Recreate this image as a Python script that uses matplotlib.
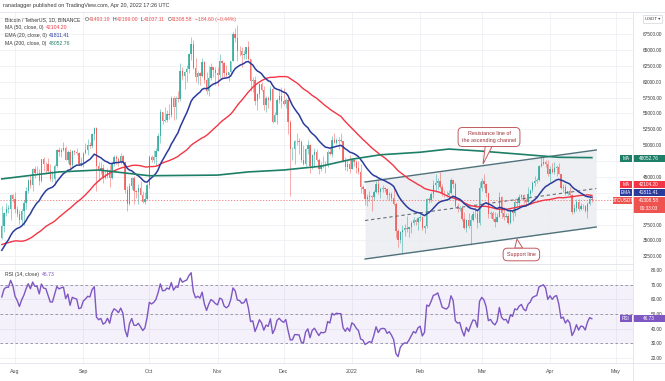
import numpy as np
import pandas as pd
import matplotlib
matplotlib.use("Agg")
import matplotlib.pyplot as plt
from matplotlib.patches import Rectangle, Polygon

plt.rcParams['font.family'] = ['Liberation Sans', 'DejaVu Sans']

# BTC/USDT daily data in thousand USDT
# closes 2021-06-06 .. 2021-07-25, only used to warm up the averages and RSI
warmup_close = [35.8, 33.6, 33.4, 37.4, 36.7, 37.3, 35.6, 39.1, 40.5, 40.1, 38.3, 38.1, 35.8, 35.5, 35.6,
                31.7, 32.5, 33.7, 34.7, 31.6, 32.3, 34.7, 34.5, 36.0, 35.0,
                33.5, 33.8, 34.7, 35.3, 33.7, 34.2, 33.9, 32.9, 33.8, 33.5, 34.3, 33.1, 32.7, 32.8, 31.8,
                31.4, 31.5, 31.8, 30.8, 29.8, 32.1, 32.3, 33.6, 34.3, 35.4]

start = "2021-07-26"
close_k = [37.3, 39.4, 40.0, 40.0, 42.2, 41.5,
           39.9, 39.2, 38.2, 39.7, 40.9, 42.8, 44.6, 43.8, 46.3, 45.6, 45.6, 44.4, 47.8, 47.1, 47.0, 45.9,
           44.7, 44.7, 46.8, 49.3, 48.9, 49.3, 49.5, 47.7, 48.9, 46.9, 49.1, 48.9, 48.8, 47.0, 47.2,
           48.8, 49.3, 50.0, 49.9, 51.8, 52.7, 46.8, 46.1, 46.4, 44.9, 45.2, 46.1, 44.9, 47.1, 48.1, 47.8,
           47.3, 48.3, 47.3, 43.0, 40.7, 43.6, 44.9, 42.8, 42.7, 43.2, 42.2, 41.0, 41.5, 43.8,
           48.1, 47.7, 48.2, 49.1, 51.5, 55.3, 53.8, 53.9, 54.9, 54.7, 57.5, 56.0, 57.4, 57.3, 61.7, 60.9,
           61.5, 62.0, 64.3, 66.0, 62.2, 60.7, 61.3, 60.9, 63.1, 60.3, 58.5, 60.6, 62.3, 61.9, 61.3,
           61.0, 63.2, 62.9, 61.4, 61.0, 61.5, 63.3, 67.5, 66.9, 64.9, 64.8, 64.2, 64.4, 65.5, 63.6, 60.1,
           60.3, 56.9, 58.1, 59.7, 58.7, 56.3, 57.5, 57.1, 58.9, 53.7, 54.8, 57.2, 57.8, 57.0,
           56.5, 57.2, 53.6, 49.4, 49.4, 50.6, 50.6, 50.5, 47.6, 47.1, 49.4, 50.1, 46.7, 48.4, 48.9, 47.6,
           46.2, 46.9, 46.7, 46.9, 49.0, 48.6, 50.8, 50.4, 50.8, 50.7, 50.7, 47.5, 46.5, 47.1, 46.2,
           47.7, 47.3, 46.4, 45.8, 43.4, 43.1, 41.6, 41.8, 42.0, 41.8, 42.7, 43.9, 42.6, 43.1, 43.2, 43.1,
           42.2, 42.4, 41.7, 40.7, 36.5, 35.1, 36.3, 36.7, 36.9, 36.8, 37.2, 37.7, 38.2, 37.9, 38.5,
           38.7, 36.9, 37.3, 41.6, 41.4, 42.4, 43.8, 44.0, 44.4, 43.5, 42.4, 42.2, 42.1, 42.5, 44.5, 43.9,
           40.5, 40.0, 40.1, 38.4, 37.0, 38.3, 37.3, 38.3, 39.2, 39.1, 37.7, 43.2,
           44.4, 43.9, 42.5, 39.1, 39.4, 38.4, 37.9, 38.7, 41.9, 39.4, 38.7, 38.8, 37.8, 39.7, 39.3, 41.1,
           40.9, 41.8, 42.2, 41.3, 41.0, 42.4, 42.9, 44.0, 44.3, 44.5, 46.8, 47.1, 47.4, 47.0, 45.5,
           46.3, 45.8, 46.4, 46.6, 45.5, 43.2, 43.4, 42.3, 42.8, 42.2, 39.5, 40.1, 41.1, 39.9, 40.5, 40.4,
           39.7, 40.8, 41.5, 41.30858]
high_k = [40.5, 39.5, 40.9, 40.6, 42.3, 42.4,
          42.6, 40.4, 39.8, 39.9, 41.4, 43.4, 44.7, 45.3, 46.4, 46.7, 46.8, 46.2, 47.9, 48.1, 47.4, 48.0,
          47.1, 46.0, 47.0, 49.4, 49.8, 49.5, 50.5, 49.9, 49.3, 49.4, 49.2, 49.3, 49.6, 48.9, 48.2,
          48.9, 50.3, 51.0, 50.5, 51.9, 52.9, 52.9, 47.4, 47.4, 47.0, 45.9, 46.4, 46.9, 47.3, 48.5, 48.5,
          48.2, 48.8, 48.4, 47.4, 43.6, 44.0, 45.0, 45.2, 42.9, 43.9, 44.4, 42.8, 42.6, 44.1,
          48.5, 48.4, 49.3, 49.5, 51.9, 55.7, 55.3, 56.1, 55.5, 56.5, 57.8, 57.7, 57.7, 58.5, 62.9, 62.4,
          61.7, 62.7, 64.5, 67.0, 66.6, 63.7, 61.7, 61.5, 63.7, 63.3, 61.5, 62.5, 62.9, 62.4, 62.4,
          62.4, 64.3, 63.5, 63.1, 62.6, 61.6, 63.3, 67.8, 68.5, 69.0, 65.6, 65.5, 65.0, 65.5, 66.4, 63.6,
          60.8, 60.9, 58.3, 59.8, 60.0, 59.3, 57.8, 57.8, 59.4, 59.2, 55.3, 57.4, 58.8, 59.2,
          59.0, 57.4, 57.6, 53.9, 49.7, 50.8, 51.9, 51.2, 50.8, 50.1, 49.5, 50.8, 50.2, 48.7, 49.5, 49.4,
          48.0, 47.3, 48.3, 47.5, 49.3, 49.6, 51.4, 51.9, 51.2, 51.3, 52.0, 50.7, 48.1, 47.9, 48.5,
          47.9, 47.9, 47.6, 47.5, 47.0, 43.7, 43.1, 42.3, 42.8, 42.2, 43.0, 44.3, 44.5, 43.5, 43.8, 43.5,
          43.2, 42.7, 42.6, 43.5, 41.1, 36.8, 36.5, 37.5, 37.6, 38.9, 37.2, 38.0, 38.7, 38.4, 38.7,
          39.3, 38.9, 37.4, 41.7, 41.9, 42.7, 44.5, 45.5, 44.8, 45.8, 43.9, 43.0, 42.8, 42.9, 44.8, 44.6,
          44.2, 40.9, 40.4, 40.2, 39.5, 38.4, 39.3, 39.0, 39.7, 40.3, 39.9, 44.2,
          44.9, 45.4, 44.1, 42.5, 39.7, 39.7, 39.5, 39.4, 42.6, 42.0, 40.2, 39.4, 39.3, 39.9, 39.9, 41.7,
          41.5, 42.3, 42.4, 42.3, 41.7, 43.4, 43.0, 44.3, 45.1, 44.8, 46.9, 48.2, 48.1, 47.7, 47.6,
          46.7, 47.2, 47.4, 46.9, 47.2, 45.5, 43.9, 43.9, 42.8, 43.4, 42.4, 40.7, 41.6, 41.5, 40.9, 40.7,
          40.6, 41.1, 41.8, 42.199]
low_k = [35.2, 36.4, 38.8, 39.3, 38.3, 41.1,
         39.4, 38.7, 37.6, 37.5, 37.4, 39.9, 42.5, 43.3, 42.8, 44.9, 45.4, 43.8, 44.2, 46.0, 45.5, 45.7,
         44.4, 44.2, 43.9, 46.6, 48.3, 48.1, 49.1, 47.6, 47.2, 46.3, 46.4, 48.4, 48.4, 46.9, 46.7,
         46.5, 48.6, 48.5, 49.5, 49.5, 50.9, 42.8, 44.4, 45.5, 44.1, 44.7, 44.8, 43.4, 44.7, 46.7, 47.0,
         46.8, 47.0, 46.9, 42.5, 39.6, 40.6, 43.1, 40.8, 41.7, 40.8, 42.1, 40.9, 40.8, 41.4,
         43.3, 47.4, 47.2, 46.9, 49.1, 50.4, 53.4, 53.6, 53.7, 54.1, 54.4, 53.9, 54.2, 56.8, 56.9, 60.2,
         58.9, 60.0, 61.3, 63.5, 62.0, 60.0, 59.7, 59.5, 60.7, 59.8, 58.0, 57.8, 60.2, 60.7, 59.5,
         59.4, 60.6, 60.4, 60.7, 60.7, 60.1, 61.3, 63.3, 66.3, 63.3, 64.1, 62.3, 63.6, 63.6, 63.4, 58.6,
         58.4, 56.4, 55.6, 57.4, 58.5, 55.6, 55.3, 55.8, 57.0, 53.5, 53.6, 53.3, 56.7, 55.9,
         56.4, 55.8, 51.7, 42.0, 47.7, 47.1, 50.0, 48.6, 47.3, 46.9, 46.8, 48.7, 45.7, 46.3, 46.6, 47.5,
         45.5, 45.9, 46.4, 45.6, 46.6, 48.4, 48.1, 50.4, 50.2, 49.4, 50.5, 47.3, 46.1, 46.0, 45.7,
         46.2, 46.7, 45.7, 45.5, 42.5, 42.4, 40.6, 40.5, 41.2, 39.7, 41.3, 42.5, 42.3, 41.7, 42.6, 42.6,
         41.6, 41.3, 41.2, 40.6, 35.4, 34.0, 34.6, 33.0, 35.7, 36.3, 35.5, 36.2, 37.4, 37.4, 36.6,
         38.1, 36.6, 36.2, 37.0, 40.9, 41.1, 41.7, 42.7, 43.1, 43.2, 42.0, 41.8, 41.9, 41.6, 42.4, 43.3,
         40.1, 39.5, 39.6, 38.0, 36.8, 36.4, 37.0, 34.3, 38.0, 38.6, 37.0, 37.5,
         42.8, 43.3, 41.8, 38.6, 38.6, 38.1, 37.2, 37.9, 38.7, 38.5, 38.2, 38.7, 37.6, 37.6, 38.1, 38.9,
         40.5, 40.1, 41.5, 40.9, 40.5, 40.9, 41.9, 42.6, 43.6, 44.1, 44.4, 46.6, 46.9, 46.6, 45.2,
         44.2, 45.6, 45.5, 45.1, 45.4, 43.1, 42.7, 42.1, 42.1, 41.9, 39.2, 39.3, 39.6, 39.6, 39.8, 40.0,
         39.5, 38.5, 40.6, 41.037]
last_open_k = 41.49319

# 200-day MA (date, thousand USDT)
ma200_dates = ['2021-07-26', '2021-08-21', '2021-09-08', '2021-10-01', '2021-11-01', '2021-11-15',
               '2021-12-01', '2021-12-18', '2022-01-01', '2022-01-14', '2022-02-01', '2022-02-14',
               '2022-02-28', '2022-03-18', '2022-04-05', '2022-04-20']
ma200_k = [44.7, 45.8, 46.1, 45.2, 45.3, 45.8, 46.1, 46.7, 47.8, 48.5, 48.9, 49.4, 49.1, 48.6, 48.1, 48.05]

# ascending channel drawn on the chart
channel_dates = ['2022-01-07', '2022-04-22']
channel_top = [44213, 49252]
channel_bottom = [32087, 37126]

month_labels = ['Aug', 'Sep', 'Oct', 'Nov', 'Dec', '2022', 'Feb', 'Mar', 'Apr', 'May']

n = len(close_k)
assert len(high_k) == n and len(low_k) == n
d0 = pd.Timestamp(start)
def day(s):
    return (pd.Timestamp(s) - d0).days

allc = pd.Series(warmup_close + close_k) * 1000
nw = len(warmup_close)
ma50 = allc.rolling(50).mean().values[nw:]
ema20 = allc.ewm(span=20, adjust=False).mean().values[nw:]
diff = allc.diff()
up = diff.clip(lower=0).ewm(alpha=1/14, adjust=False).mean()
dn = (-diff.clip(upper=0)).ewm(alpha=1/14, adjust=False).mean()
rsi = (100 - 100 / (1 + up / dn)).values[nw:]

c = np.array(close_k) * 1000
o = allc.shift(1).values[nw:].copy()
o[-1] = last_open_k * 1000
h = np.array(high_k) * 1000
l = np.array(low_k) * 1000
t = np.arange(n)

W, H = 665, 381
fig = plt.figure(figsize=(6.65, 3.81), dpi=100)
def box(x0, y0, x1, y1):
    return [x0 / W, 1 - y1 / H, (x1 - x0) / W, (y1 - y0) / H]
ax = fig.add_axes(box(0, 12, 633, 264))
axr = fig.add_axes(box(0, 264, 633, 363))

xl = (-0.82, 286.7)
month_pos = [day(m) for m in pd.date_range('2021-08-01', '2022-05-01', freq='MS')]
gridc = '#eef0f5'
for a in (ax, axr):
    a.set_xlim(*xl)
    a.set_xticks(month_pos)
    a.grid(True, color=gridc, lw=0.6)
    a.set_axisbelow(True)
    for s in a.spines.values():
        s.set_visible(False)
    a.yaxis.tick_right()
    a.tick_params(length=0, labelsize=3.4, labelcolor='#3a3a3a')

# price panel; labels hidden behind the scale tags are left blank
pticks = np.arange(32500, 70001, 2500)
hidden = {40000, 42500, 47500, 70000}
ax.set_ylim(31299, 70984)
ax.set_yticks(pticks)
ax.set_yticklabels(["" if v in hidden else f"{v:.2f}" for v in pticks])
ax.tick_params(axis='y', pad=20.9)
for lab in ax.get_yticklabels():
    lab.set_ha('right')
ax.set_xticklabels([])

# channel
cx = [day(s) for s in channel_dates]
ax.fill_between(cx, channel_bottom, channel_top, color='#e9ecf1', alpha=0.8, lw=0, zorder=1)
ax.plot(cx, channel_top, color='#4f717a', lw=1.0, zorder=4)
ax.plot(cx, channel_bottom, color='#4f717a', lw=1.0, zorder=4)
ax.plot(cx, [(a + b) / 2 for a, b in zip(channel_top, channel_bottom)], color='#6b6e76',
        lw=0.8, ls=(0, (3, 2.5)), zorder=4)

# candles
upc, dnc = '#26a69a', '#ef5350'
cols = np.where(c >= o, upc, dnc)
ax.vlines(t, l, h, colors=cols, lw=0.45, alpha=0.75, zorder=3)
body = np.maximum(np.abs(c - o), 60)
ax.bar(t, body, bottom=np.minimum(o, c), width=0.62, color=cols, lw=0, alpha=0.8, zorder=3)

ax.axhline(c[-1], color=dnc, lw=0.6, ls=(0, (1.5, 2)), alpha=0.8, zorder=2)

ax.plot(t, ma50, color='#f23645', lw=1.0, zorder=5)
ax.plot(t, ema20, color='#2a3b9c', lw=1.1, zorder=5)
ax.plot([day(s) for s in ma200_dates], np.array(ma200_k) * 1000, color='#1d7f68', lw=1.2, zorder=5)

# callouts
txtc, boxc = '#9a2e36', '#c25a5f'
ax.add_patch(Polygon([(219.6, 49900), (218.6, 47047), (222.8, 49900)], closed=True,
                     fc='white', ec=boxc, lw=0.7, zorder=6))
ax.text(221.3, 51299, "Resistance line of\nthe ascending channel", fontsize=3.9, color=txtc,
        ha='center', va='center', linespacing=1.35, zorder=7,
        bbox=dict(boxstyle='round,pad=0.7,rounding_size=0.8', fc='white', ec=boxc, lw=0.7))
ax.add_patch(Polygon([(233.0, 33800), (234.0, 35236), (236.6, 33800)], closed=True,
                     fc='white', ec=boxc, lw=0.7, zorder=6))
ax.text(236.0, 32795, "Support line", fontsize=3.9, color=txtc, ha='center', va='center', zorder=7,
        bbox=dict(boxstyle='round,pad=0.7,rounding_size=0.8', fc='white', ec=boxc, lw=0.7))

# RSI panel
purple = '#7e57c2'
axr.set_ylim(16.4, 84.2)
axr.set_yticks(np.arange(20, 81, 10))
axr.set_yticklabels([f"{v:.2f}" for v in np.arange(20, 81, 10)])
axr.tick_params(axis='y', pad=20.9)
for lab in axr.get_yticklabels():
    lab.set_ha('right')
axr.axhspan(30, 70, color=purple, alpha=0.08, lw=0)
for lv in (30, 50, 70):
    axr.axhline(lv, color='#8f8aa0', lw=0.6, ls=(0, (3, 3)))
axr.plot(t, rsi, color=purple, lw=1.0)
axr.set_xticklabels(month_labels)
axr.tick_params(axis='x', pad=4.2, labelsize=3.8, labelcolor='#4a4a4a')

# frame lines
linec = '#e0e3eb'
fig.add_artist(plt.Line2D([0, 1], [1 - 12 / H, 1 - 12 / H], color=linec, lw=0.6))
fig.add_artist(plt.Line2D([0, 633 / W], [1 - 264 / H, 1 - 264 / H], color=linec, lw=0.6))
fig.add_artist(plt.Line2D([0, 1], [1 - 363 / H, 1 - 363 / H], color=linec, lw=0.6))
fig.add_artist(plt.Line2D([633 / W, 633 / W], [1 - 381 / H, 1 - 12 / H], color=linec, lw=0.6))

# header and legend, pieces laid out one after another
fig.canvas.draw()
rend = fig.canvas.get_renderer()
grey = '#3a3a3a'

def chain(x, y, parts, fs=3.7):
    for s, col, gap in parts:
        tx = fig.text(x / W, 1 - y / H, s, color=col, fontsize=fs, va='center', ha='left')
        x += tx.get_window_extent(rend).width + gap

chain(3, 6, [("ranadagger published on TradingView.com, Apr 20, 2022 17:26 UTC", grey, 0)], fs=4.0)
chain(5, 19.3, [("Bitcoin / TetherUS, 1D, BINANCE", grey, 4),
                ("O", grey, 0.3), ("41493.19", dnc, 2.5),
                ("H", grey, 0.3), ("42199.00", dnc, 2.5),
                ("L", grey, 0.3), ("41037.11", dnc, 2.5),
                ("C", grey, 0.3), ("41308.58", dnc, 2.5),
                ("\u2212184.60 (\u22120.44%)", dnc, 0)])
chain(5, 27.3, [("MA (50, close, 0)", grey, 2.5), ("42104.20", '#f23645', 0)])
chain(5, 35.2, [("EMA (20, close, 0)", grey, 2.5), ("41811.41", '#2a3b9c', 0)])
chain(5, 43.2, [("MA (200, close, 0)", grey, 2.5), ("48052.76", '#1d7f68', 0)])
chain(5, 274.7, [("RSI (14, close)", grey, 2.5), ("46.73", purple, 0)])

# price scale tags
def tag(x0, y0, x1, y1, s, fc, fs=3.4):
    fig.patches.append(Rectangle((x0 / W, 1 - y1 / H), (x1 - x0) / W, (y1 - y0) / H,
                                 transform=fig.transFigure, fc=fc, ec='none'))
    fig.text((x0 + x1) / 2 / W, 1 - (y0 + y1) / 2 / H, s, color='white', fontsize=fs,
             ha='center', va='center')

tag(620, 155, 632, 162, "MA", '#1d7f68')
tag(633, 155, 665, 162, "48052.76", '#1d7f68')
tag(620, 181, 632, 188, "MA", '#f23645')
tag(633, 181, 665, 188, "42104.20", '#f23645')
tag(620, 189, 632, 196, "EMA", '#2a3b9c')
tag(633, 189, 665, 196, "41811.41", '#2a3b9c')
tag(613, 197, 632, 204, "BTCUSDT", dnc)
tag(633, 197, 665, 213, "", dnc)
fig.text(649 / W, 1 - 200.6 / H, "41308.58", color='white', fontsize=3.4, ha='center', va='center')
fig.text(649 / W, 1 - 208.6 / H, "06:33:03", color='white', fontsize=3.4, ha='center', va='center')
tag(620, 315, 632, 322, "RSI", purple)
tag(633, 315, 665, 322, "46.73", purple)

fig.patches.append(Rectangle((643 / W, 1 - 23 / H), 19 / W, 8 / H, transform=fig.transFigure,
                             fc='white', ec='#d1d4dc', lw=0.5))
fig.text(652.5 / W, 1 - 19 / H, "USDT \u25be", color=grey, fontsize=3.2, ha='center', va='center')

fig.savefig("out.png", dpi=100)
